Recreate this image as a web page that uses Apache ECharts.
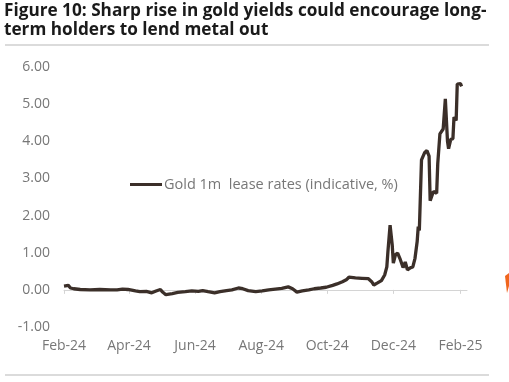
<!DOCTYPE html>
<html>
<head>
<meta charset="utf-8">
<script src="https://cdn.jsdelivr.net/npm/echarts@6/dist/echarts.min.js"></script>
<style>html,body{margin:0;padding:0;background:#fff;}#c{width:509px;height:382px;}</style>
</head>
<body>
<div id="c"></div>
<script>
const titleText = "Figure 10: Sharp rise in gold yields could encourage long-\nterm holders to lend metal out";
const seriesName = "Gold 1m  lease rates (indicative, %)";
const tickDates = ["2024-02-01","2024-04-01","2024-06-01","2024-08-01","2024-10-01","2024-12-01","2025-02-01"];
const dates = [
"2024-02-01","2024-02-05","2024-02-07","2024-02-10","2024-02-16","2024-02-25","2024-03-05","2024-03-15","2024-03-21","2024-03-26","2024-03-31",
"2024-04-07","2024-04-11","2024-04-17","2024-04-22","2024-04-26","2024-04-30","2024-05-02","2024-05-05","2024-05-11","2024-05-16","2024-05-23","2024-05-29",
"2024-06-04","2024-06-08","2024-06-13","2024-06-19","2024-06-24","2024-06-30","2024-07-05","2024-07-11","2024-07-15","2024-07-20","2024-07-27",
"2024-08-02","2024-08-08","2024-08-14","2024-08-20","2024-08-26","2024-08-30","2024-09-03","2024-09-08","2024-09-14","2024-09-19","2024-09-25","2024-09-30",
"2024-10-06","2024-10-10","2024-10-15","2024-10-19","2024-10-21","2024-10-27","2024-11-02","2024-11-08","2024-11-11","2024-11-13","2024-11-16","2024-11-20","2024-11-23","2024-11-25","2024-11-26","2024-11-27","2024-11-28","2024-11-30",
"2024-12-01","2024-12-03","2024-12-05","2024-12-07","2024-12-08","2024-12-10","2024-12-12","2024-12-14","2024-12-17","2024-12-19","2024-12-21","2024-12-23","2024-12-24","2024-12-25","2024-12-27","2024-12-30",
"2025-01-01","2025-01-03","2025-01-04","2025-01-07","2025-01-10","2025-01-11","2025-01-13","2025-01-16","2025-01-18","2025-01-20","2025-01-21","2025-01-23","2025-01-25","2025-01-26","2025-01-28","2025-01-29","2025-02-01","2025-02-02"
];
const values = [
0.10,0.12,0.05,0.03,0.01,0.00,0.01,0.00,0.00,0.02,0.01,
-0.03,-0.05,-0.04,-0.08,-0.03,0.01,-0.06,-0.13,-0.10,-0.07,-0.05,-0.03,
-0.04,-0.02,-0.05,-0.08,-0.05,-0.02,0.00,0.05,0.03,-0.02,-0.05,
-0.03,0.00,0.02,0.04,0.08,0.03,-0.06,-0.03,0.00,0.03,0.05,0.07,
0.12,0.16,0.22,0.28,0.34,0.32,0.31,0.30,0.22,0.13,0.18,0.25,0.40,0.62,1.03,1.00,1.74,1.20,
0.72,0.95,0.99,0.85,0.90,0.60,0.75,0.54,0.60,0.62,0.85,1.30,1.70,1.60,3.50,3.70,
3.75,3.60,2.40,2.65,2.60,3.40,4.20,4.33,5.14,4.00,3.80,4.05,4.07,4.65,4.56,5.54,5.55,5.48
];
const yMin = -1, yMax = 6, yStep = 1;

const toTs = s => Date.parse(s + "T00:00:00Z");
const fmtMonth = v => {
  const d = new Date(v);
  const m = ["Jan","Feb","Mar","Apr","May","Jun","Jul","Aug","Sep","Oct","Nov","Dec"][d.getUTCMonth()];
  return m + "-" + String(d.getUTCFullYear()).slice(2);
};
const tickTs = tickDates.map(toTs);
const chart = echarts.init(document.getElementById('c'));
chart.setOption({
  animation: false,
  backgroundColor: '#fff',
  title: {
    text: titleText, left: 4, top: 2, padding: 0,
    textStyle: { fontFamily: 'Open Sans', fontWeight: 'bold', fontSize: 17.2, lineHeight: 19, color: '#1a1a1a' }
  },
  legend: {
    left: 125, top: 172, itemWidth: 32, itemHeight: 3, icon: 'rect',
    textStyle: { fontFamily: 'Open Sans', fontSize: 14.5, color: '#777', padding: [0, 0, 0, -3] },
    data: [seriesName]
  },
  grid: { left: 64, right: 42, top: 67, bottom: 55, outerBoundsMode: 'none', containLabel: false },
  xAxis: {
    type: 'value',
    min: toTs("2024-02-01"),
    max: toTs("2025-02-07"),
    axisLine: { onZero: true, lineStyle: { color: '#d4d4d4', width: 1 } },
    axisTick: { show: true, length: 4, lineStyle: { color: '#d4d4d4' }, customValues: tickTs },
    axisLabel: { customValues: tickTs, formatter: fmtMonth, margin: 12, fontFamily: 'Open Sans', fontSize: 14, color: '#777' },
    splitLine: { show: false }
  },
  yAxis: {
    type: 'value', min: yMin, max: yMax, interval: yStep,
    axisLine: { show: false }, axisTick: { show: false }, splitLine: { show: false },
    axisLabel: { formatter: v => v.toFixed(2), margin: 14, fontFamily: 'Open Sans', fontSize: 14, color: '#777' }
  },
  series: [{
    name: seriesName, type: 'line', showSymbol: false, symbol: 'none',
    data: dates.map((d, i) => [toTs(d), values[i]]),
    lineStyle: { color: '#3b2f29', width: 3.3 }, itemStyle: { color: '#3b2f29' }
  }],
  graphic: [
    { type: 'line', shape: { x1: 5, y1: 45, x2: 489, y2: 45 }, style: { stroke: '#cfcfcf', lineWidth: 1.5 } },
    { type: 'line', shape: { x1: 5, y1: 375, x2: 489, y2: 375 }, style: { stroke: '#cfcfcf', lineWidth: 1.5 } },
    { type: 'polygon', shape: { points: [[505,276],[509,273],[509,286],[507,293]] }, style: { fill: '#f0651c' } }
  ]
});
</script>
</body>
</html>
